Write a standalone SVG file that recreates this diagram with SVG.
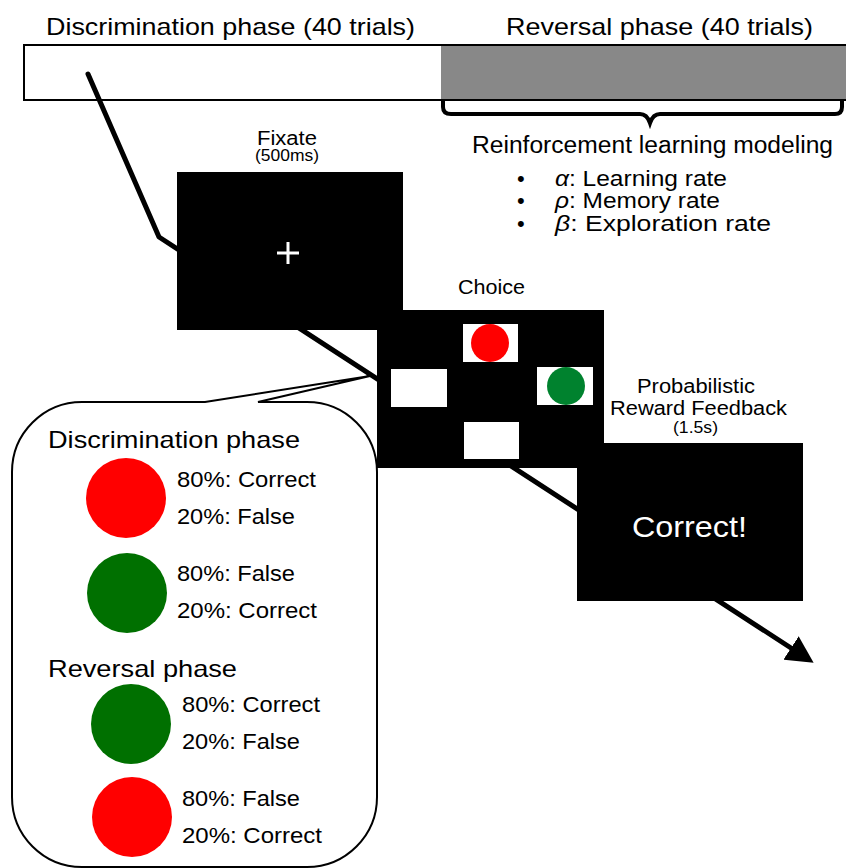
<svg xmlns="http://www.w3.org/2000/svg" width="846" height="868" viewBox="0 0 846 868">
<style>
text{font-family:"Liberation Sans",Arial,Helvetica,sans-serif;fill:#000}
.lab{font-size:20px}
.big{font-size:24px}
.leg{font-size:22px}
.w{fill:#fff}
.scr{fill:#000}
.slot{fill:#fff}
.it{font-style:italic}
</style>
<defs>
<marker id="arrow" markerWidth="28" markerHeight="28" refX="0" refY="14" orient="auto" markerUnits="userSpaceOnUse">
<path d="M0,0 L27,14 L0,28 z" fill="#000"/>
</marker>
</defs>
<rect width="846" height="868" fill="#fff"/>

<g id="timeline">
<rect x="24" y="45" width="830" height="55" fill="#fff" stroke="#000" stroke-width="2"/>
<rect x="441" y="46" width="410" height="53" fill="#888"/>
<line x1="441" y1="45" x2="846" y2="45" stroke="#000" stroke-width="2"/>
<line x1="441" y1="100" x2="846" y2="100" stroke="#000" stroke-width="2"/>
<text class="big" x="46" y="35" textLength="369" lengthAdjust="spacingAndGlyphs">Discrimination phase (40 trials)</text>
<text class="big" x="506" y="35" textLength="307" lengthAdjust="spacingAndGlyphs">Reversal phase (40 trials)</text>
</g>

<g id="rl-model">
<path d="M443,100 L443,107 Q443,114 451,114 L640,114 Q647,114 650,123 Q653,114 660,114 L835,114 Q842,114 842,107 L842,100" fill="none" stroke="#000" stroke-width="4"/>
<text x="472" y="153" font-size="23" textLength="361" lengthAdjust="spacingAndGlyphs">Reinforcement learning modeling</text>
<text x="517" y="186" font-size="22">•</text>
<text x="517" y="208" font-size="22">•</text>
<text x="517" y="231" font-size="22">•</text>
<text x="555" y="186" font-size="22" textLength="172" lengthAdjust="spacingAndGlyphs"><tspan class="it">α</tspan>: Learning rate</text>
<text x="555" y="208" font-size="22" textLength="165" lengthAdjust="spacingAndGlyphs"><tspan class="it">ρ</tspan>: Memory rate</text>
<text x="555" y="231" font-size="22" textLength="216" lengthAdjust="spacingAndGlyphs"><tspan class="it">β</tspan>: Exploration rate</text>
</g>

<g id="connectors">
<path d="M88,74 L159,237 L791,648" fill="none" stroke="#000" stroke-width="5" stroke-linecap="round" stroke-linejoin="round" marker-end="url(#arrow)"/>
</g>

<g id="fixate">
<rect class="scr" x="177" y="172" width="226" height="158"/>
<text class="lab" x="257" y="145" font-size="21" textLength="60" lengthAdjust="spacingAndGlyphs">Fixate</text>
<text x="255" y="161" font-size="17" textLength="64" lengthAdjust="spacingAndGlyphs">(500ms)</text>
<path d="M277,253 H299 M288,242 V264" stroke="#fff" stroke-width="3"/>
</g>

<g id="choice">
<rect class="scr" x="377" y="310" width="227" height="158"/>
<text class="lab" x="458" y="294" textLength="67" lengthAdjust="spacingAndGlyphs">Choice</text>
<rect class="slot" x="463" y="324" width="55" height="38"/>
<circle cx="490" cy="343" r="19" fill="#ff0000"/>
<rect class="slot" x="391" y="369" width="56" height="38"/>
<rect class="slot" x="537" y="367" width="56" height="38"/>
<circle cx="566" cy="386" r="19" fill="#00822e"/>
<rect class="slot" x="464" y="422" width="55" height="37"/>
</g>

<g id="feedback">
<rect class="scr" x="577" y="443" width="226" height="158"/>
<text class="lab" x="637" y="393" textLength="118" lengthAdjust="spacingAndGlyphs">Probabilistic</text>
<text class="lab" x="610" y="415" textLength="177" lengthAdjust="spacingAndGlyphs">Reward Feedback</text>
<text x="673" y="433" font-size="16" textLength="45" lengthAdjust="spacingAndGlyphs">(1.5s)</text>
<text class="w" x="632" y="537" font-size="30" textLength="115" lengthAdjust="spacingAndGlyphs">Correct!</text>
</g>

<g id="legend">
<path d="M82,402 L205,402 L370,376 L258,402 L307,402 A70,70 0 0 1 377,472 L377,797 A70,70 0 0 1 307,867 L82,867 A70,70 0 0 1 12,797 L12,472 A70,70 0 0 1 82,402 Z" fill="#fff" stroke="#000" stroke-width="2" stroke-linejoin="miter"/>
<text class="big" x="48" y="448" textLength="252" lengthAdjust="spacingAndGlyphs">Discrimination phase</text>
<circle cx="126" cy="498" r="40" fill="#ff0000"/>
<text class="leg" x="177" y="487" textLength="139" lengthAdjust="spacingAndGlyphs">80%: Correct</text>
<text class="leg" x="177" y="524" textLength="118" lengthAdjust="spacingAndGlyphs">20%: False</text>
<circle cx="127" cy="593" r="40" fill="#007000"/>
<text class="leg" x="177" y="581" textLength="118" lengthAdjust="spacingAndGlyphs">80%: False</text>
<text class="leg" x="177" y="618" textLength="140" lengthAdjust="spacingAndGlyphs">20%: Correct</text>
<text class="big" x="48" y="677" textLength="189" lengthAdjust="spacingAndGlyphs">Reversal phase</text>
<circle cx="131" cy="724" r="40" fill="#007000"/>
<text class="leg" x="182" y="712" textLength="138" lengthAdjust="spacingAndGlyphs">80%: Correct</text>
<text class="leg" x="182" y="749" textLength="118" lengthAdjust="spacingAndGlyphs">20%: False</text>
<circle cx="132" cy="817" r="40" fill="#ff0000"/>
<text class="leg" x="182" y="806" textLength="118" lengthAdjust="spacingAndGlyphs">80%: False</text>
<text class="leg" x="182" y="843" textLength="140" lengthAdjust="spacingAndGlyphs">20%: Correct</text>
</g>
</svg>
